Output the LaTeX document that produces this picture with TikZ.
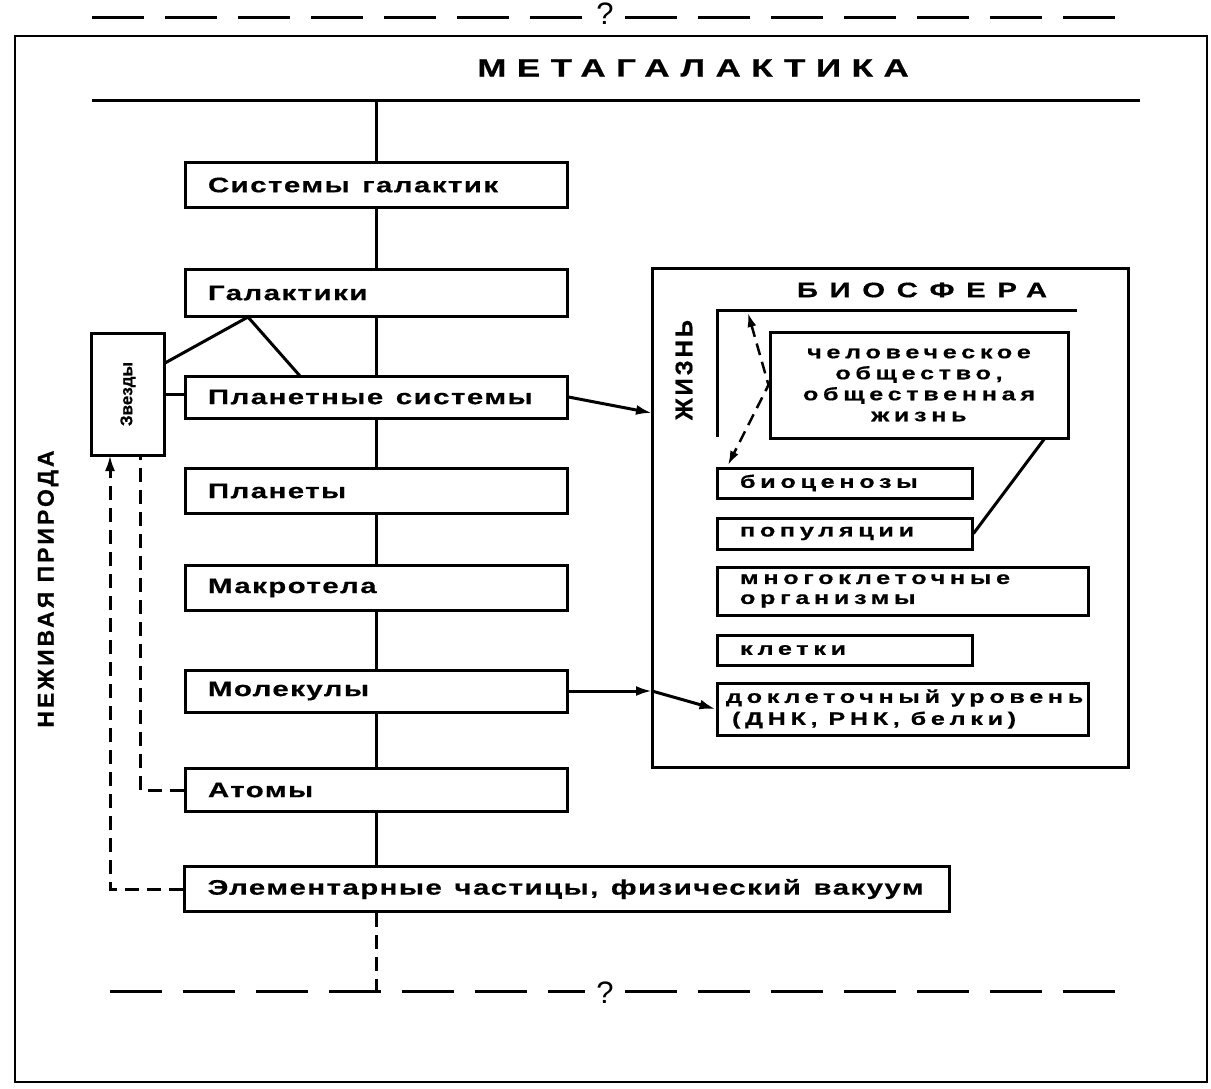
\documentclass[tikz,border=0pt]{standalone}
\usepackage{fontspec}
\setmainfont{Liberation Sans}
\newfontfamily\wide{Liberation Sans}[FakeStretch=1.4, FakeBold=0.6]
\newfontfamily\heavy{Liberation Sans}[FakeBold=0.6]
\usetikzlibrary{arrows.meta}
\newcommand\lvlfont{\wide\bfseries\fontsize{21}{24}\selectfont\addfontfeature{LetterSpace=7}}
\newcommand\biofont{\wide\bfseries\fontsize{18}{21}\selectfont\addfontfeature{LetterSpace=26}}
\newcommand\mgfont{\wide\bfseries\fontsize{25}{26}\selectfont\addfontfeature{LetterSpace=42}}
\newcommand\bsfont{\wide\bfseries\fontsize{21}{22}\selectfont\addfontfeature{LetterSpace=55}}
\newcommand\nzfont{\heavy\bfseries\fontsize{23}{24}\selectfont\addfontfeature{LetterSpace=13}}
\newcommand\zhfont{\heavy\bfseries\fontsize{24}{24}\selectfont\addfontfeature{LetterSpace=12}}
\newcommand\zvfont{\heavy\bfseries\fontsize{17}{18}\selectfont}
\newcommand\qfont{\fontsize{31}{31}\selectfont}
\newcommand\wsp{\hspace{0.6em}}
\begin{document}
\begin{tikzpicture}[x=1pt,y=-1pt,
  ln/.style={line width=3pt},
  lvl/.style={draw, line width=3pt, minimum width=382pt, minimum height=45pt, text width=336pt, inner xsep=23pt, inner ysep=0pt, align=left, font=\lvlfont},
  bbox/.style={draw, line width=3pt, minimum width=255pt, text width=209pt, inner xsep=23pt, inner ysep=0pt, align=left, font=\biofont},
  dsh/.style={line width=3pt, dash pattern=on 14pt off 8pt},
  lng/.style={line width=3pt, dash pattern=on 52pt off 21pt},
  tip/.style={-{Latex[length=16pt,width=10pt]}}]
\useasboundingbox (0,0) rectangle (1211,1088);
\draw[line width=2.5pt] (15,36) rectangle (1207,1082);
\draw[lng] (92,17) -- (585,17);
\draw[lng] (625,17) -- (1118,17);
\node[font=\qfont] (q1) at (605,14) {?};
\node[font=\mgfont] (mg) at (693,68) {МЕТАГАЛАКТИКА};
\draw[ln] (92,100) -- (1140,100);
\node[lvl] (sg) at (376,185) {Системы\wsp галактик};
\node[lvl, minimum height=47pt] (gal) at (376,293) {Галактики};
\node[lvl, minimum height=42pt] (ps) at (376,397) {Планетные\wsp системы};
\node[lvl] (pl) at (376,491) {Планеты};
\node[lvl] (mt) at (376,588) {Макротела};
\node[lvl, minimum height=42pt] (mol) at (376,691) {Молекулы};
\node[lvl, minimum height=43pt] (at) at (376,790) {Атомы};
\node[lvl, minimum width=765pt, text width=719pt] (el) at (567,889) {\mbox{Элементарные\wsp частицы,\wsp физический\wsp вакуум}};
\coordinate (top) at (376,100);
\coordinate (bot) at (376,991);
\draw[ln] (top) -- (sg);
\foreach \a/\b in {sg/gal, gal/ps, ps/pl, pl/mt, mt/mol, mol/at}
  \draw[ln] (\a) -- (\b);
\draw[ln] (at) -- (at |- el.north);
\draw[dsh] (at |- el.south) -- (bot);
\draw[lng] (110,991) -- (585,991);
\draw[lng] (625,991) -- (1117,991);
\node[font=\qfont] (q2) at (605,993) {?};
\node[draw, line width=3pt, minimum width=73pt, minimum height=122pt] (zv) at (128,394) {};
\node[rotate=90, font=\zvfont] (zvt) at (zv) {Звезды};
\coordinate (zt) at (165,363);
\coordinate (gb) at (248,317);
\coordinate (pt) at (300,376);
\draw[ln] (zt) -- (gb) -- (pt);
\draw[ln] (zv.east) -- (zv.east -| ps.west);
\coordinate (zl) at (110,455);
\coordinate (zr) at (140,455);
\draw[dsh, tip] (el.west) -| (zl);
\draw[dsh] (at.west) -| (zr);
\node[rotate=90, font=\nzfont] (nz) at (48,589) {НЕЖИВАЯ ПРИРОДА};
\node[draw, line width=3pt, minimum width=476pt, minimum height=499pt] (bio) at (890,517.5) {};
\node[font=\bsfont] (bst) at (922,290) {БИОСФЕРА};
\draw[ln] (1077,310) -- (717,310) -- (717,437);
\node[rotate=90, font=\zhfont] (zh) at (684,370) {ЖИЗНЬ};
\node[draw, line width=3pt, minimum width=298pt, minimum height=106pt, text width=296pt, inner sep=0pt, align=center, font=\biofont] (hum) at (919,385) {человеческое\\общество,\\общественная\\жизнь};
\node[bbox, minimum height=30pt] (bioc) at (844.5,483) {биоценозы};
\node[bbox, minimum height=31pt] (pop) at (844.5,533.5) {популяции};
\node[bbox, minimum width=371pt, text width=325pt, minimum height=48pt, font=\biofont\fontsize{18}{20}\selectfont] (mnog) at (902.5,591) {многоклеточные\\организмы};
\node[bbox, minimum height=30pt] (kl) at (844.5,650) {клетки};
\node[bbox, minimum width=371pt, text width=353pt, inner xsep=9pt, minimum height=52pt, font=\biofont\fontsize{18}{22}\selectfont] (dok) at (902.5,709) {\mbox{доклеточный\wsp уровень}\\\mbox{\ (ДНК,\wsp РНК,\wsp белки)}};
\coordinate (hb) at (1045,438);
\draw[ln] (hb) -- (pop.east);
\coordinate (zhtop) at (748,313);
\coordinate (bct) at (728,465);
\draw[line width=2.5pt, dash pattern=on 12pt off 7pt, {Latex[length=14pt,width=9pt]}-{Latex[length=14pt,width=9pt]}] (zhtop) -- (hum.west) -- (bct);
\coordinate (bioin) at (652,413);
\coordinate (biomol) at (652,691);
\draw[ln, tip] (ps.east) -- (bioin);
\draw[ln, tip] (mol.east) -- (biomol);
\draw[ln, tip] (biomol) -- (dok.west);
\end{tikzpicture}
\end{document}
